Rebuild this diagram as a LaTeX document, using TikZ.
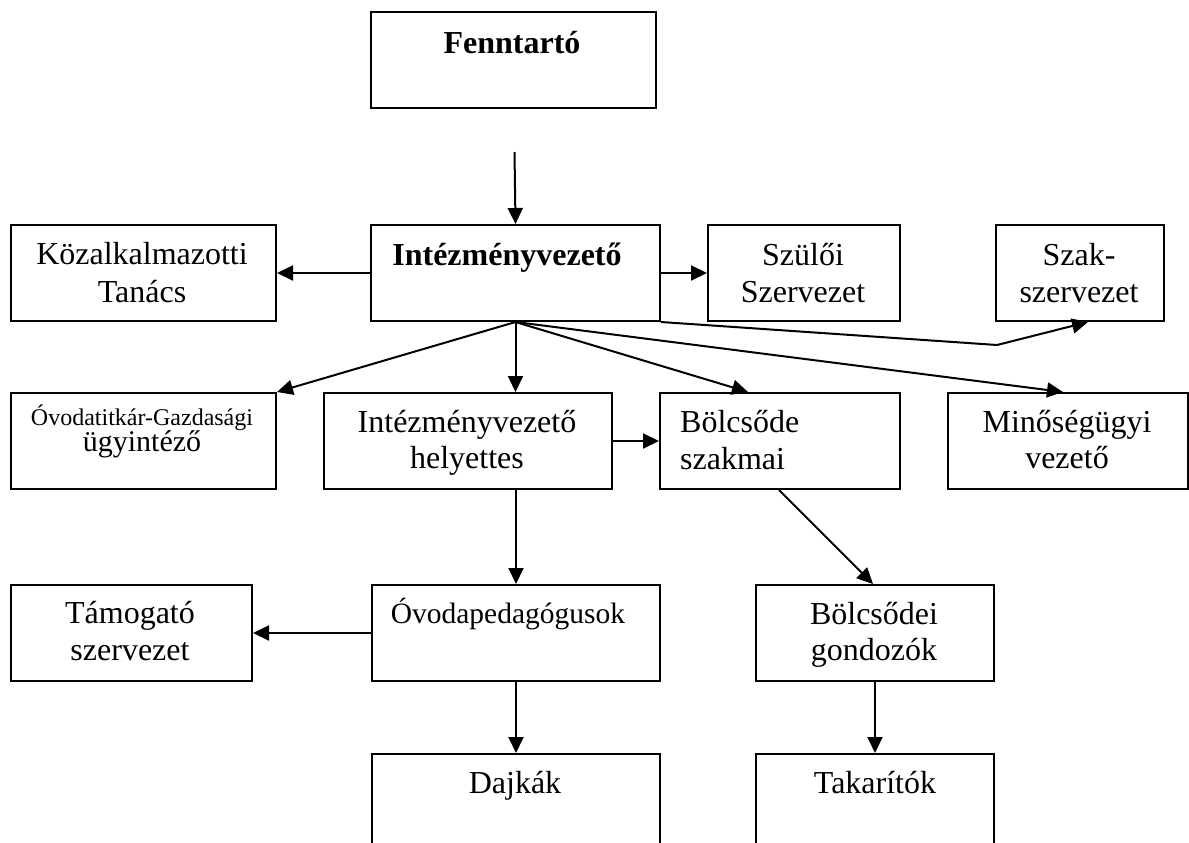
\documentclass[tikz,border=0pt]{standalone}
\usepackage{fontspec}
\setmainfont{Liberation Serif}
\usetikzlibrary{arrows.meta,calc}
\newcommand\mybox[6][]{\node[box,minimum width=#5pt,minimum height=#6pt,#1] (#2) at (#3,#4) {};}
\begin{document}
\begin{tikzpicture}[x=1pt,y=-1pt,
  box/.style={draw,line width=2pt,inner sep=0pt,anchor=north west},
  txt/.style={anchor=base,inner sep=0pt,font=\fontsize{32}{38}\selectfont},
  btxt/.style={txt,font=\fontsize{32}{38}\selectfont\bfseries},
  stxt/.style={txt,font=\fontsize{24}{28}\selectfont},
  mtxt/.style={txt,font=\fontsize{29.5}{34}\selectfont},
  conn/.style={line width=2pt,-{Triangle[length=16pt,width=15pt]}}]
\useasboundingbox (0,0) rectangle (1189,843);
\clip (0,0) rectangle (1189,843);
% boxes
\mybox{fenn}{370}{11}{285}{96}
\mybox{intv}{370}{224}{289}{96}
\mybox{kozalk}{10}{224}{265}{96}
\mybox{szuloi}{707}{224}{192}{96}
\mybox{szak}{995}{224}{168}{96}
\mybox{ovtit}{10}{392}{265}{96}
\mybox{helyet}{323}{392}{288}{96}
\mybox{bolcs}{659}{392}{240}{96}
\mybox{minos}{947}{392}{240}{96}
\mybox{tamog}{10}{584}{241}{96}
\mybox{ovped}{371}{584}{288}{96}
\mybox{bgond}{755}{584}{238}{96}
\mybox{dajk}{371}{753}{288}{150}
\mybox{takar}{755}{753}{238}{150}
% texts
\node[btxt] (fenn-t) at (512,54) {Fenntartó};
\node[btxt] (intv-t) at (507,265) {Intézményvezető};
\node[txt] (kozalk-t1) at (142,264) {Közalkalmazotti};
\node[txt] (kozalk-t2) at (142,302) {Tanács};
\node[txt] (szuloi-t1) at (803,265) {Szülői};
\node[txt] (szuloi-t2) at (803,302) {Szervezet};
\node[txt] (szak-t1) at (1079,265) {Szak-};
\node[txt] (szak-t2) at (1079,302) {szervezet};
\node[stxt] (ovtit-t1) at (142,425) {Óvodatitkár-Gazdasági};
\node[txt,font=\fontsize{30}{36}\selectfont] (ovtit-t2) at (142,451) {ügyintéző};
\node[txt] (helyet-t1) at (467,432) {Intézményvezető};
\node[txt] (helyet-t2) at (467,468) {helyettes};
\node[txt,anchor=base west] (bolcs-t1) at (680,432) {Bölcsőde};
\node[txt,anchor=base west] (bolcs-t2) at (680,469) {szakmai};
\node[txt] (minos-t1) at (1067,432) {Minőségügyi};
\node[txt] (minos-t2) at (1067,468) {vezető};
\node[txt] (tamog-t1) at (130,623) {Támogató};
\node[txt] (tamog-t2) at (130,660) {szervezet};
\node[mtxt] (ovped-t) at (508,623) {Óvodapedagógusok};
\node[txt] (bgond-t1) at (874,624) {Bölcsődei};
\node[txt] (bgond-t2) at (874,660) {gondozók};
\node[txt] (dajk-t) at (515,793) {Dajkák};
\node[txt] (takar-t) at (875,793) {Takarítók};
% connectors
\coordinate (ftop) at (514.5,152);
\coordinate (bend) at (997,345);
\draw[conn] (ftop) -- (intv.north);
\draw[conn] (intv.west) -- (kozalk.east);
\draw[conn] (intv.east) -- (szuloi.west);
\draw[conn] (intv.south) -- (ovtit.north east);
\draw[conn] (intv.south) -- (intv.south |- helyet.north);
\draw[conn] (intv.south) -- ($(bolcs.north west)+(89,0)$);
\draw[conn] (intv.south) -- ($(minos.north west)+(116,0)$);
\draw[conn] (intv.south east) -- (bend) -- ($(szak.south west)+(93,0)$);
\draw[conn] (helyet.east) -- (bolcs.west);
\draw[conn] (helyet.south -| ovped.north) -- (ovped.north);
\draw[conn] ($(bolcs.south west)+(120,0)$) -- ($(bgond.north west)+(118,0)$);
\draw[conn] (ovped.west) -- (tamog.east);
\draw[conn] (ovped.south) -- (dajk.north);
\draw[conn] (bgond.south) -- (takar.north);
\end{tikzpicture}
\end{document}
